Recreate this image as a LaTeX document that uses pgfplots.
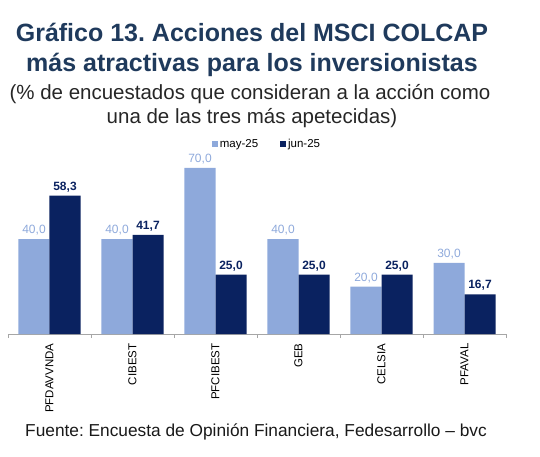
\documentclass[border=0pt]{standalone}
\usepackage{fontspec}
\setmainfont{Liberation Sans}
\usepackage{pgfplots}
\pgfplotsset{compat=1.18}
\frenchspacing
\definecolor{maycol}{HTML}{8EA9DB}
\definecolor{juncol}{HTML}{0A2260}
\definecolor{titlecol}{HTML}{1F3A5C}
\definecolor{axiscol}{HTML}{A6A6A6}
\begin{document}
\begin{tikzpicture}
\path[use as bounding box] (0pt,0pt) rectangle (540pt,456pt);
% titulo
\node[anchor=base,font=\fontsize{25}{30}\selectfont\bfseries,text=titlecol] at (252pt,414pt) {Gráfico 13. Acciones del MSCI COLCAP};
\node[anchor=base,font=\fontsize{25}{30}\selectfont\bfseries,text=titlecol] at (252pt,384pt) {más atractivas para los inversionistas};
\node[anchor=base,font=\fontsize{20.5}{24}\selectfont,text=black!85] at (250pt,356pt) {(\% de encuestados que consideran a la acción como};
\node[anchor=base,font=\fontsize{20.5}{24}\selectfont,text=black!85] at (252pt,332pt) {una de las tres más apetecidas)};
\node[anchor=base,font=\fontsize{17.3}{20}\selectfont,text=black!90] at (256pt,20pt) {Fuente: Encuesta de Opinión Financiera, Fedesarrollo – bvc};
\begin{axis}[
  at={(8pt,122pt)}, anchor=south west,
  scale only axis, width=498pt, height=190pt,
  xmin=-0.5, xmax=5.5, ymin=0, ymax=80,
  axis x line=bottom, axis y line=none,
  axis line style={axiscol,-},
  ybar=0pt, bar width=31pt,
  xtick={0,...,5},
  xticklabels={PFDAVVNDA,CIBEST,PFCIBEST,GEB,CELSIA,PFAVAL},
  major tick length=0pt,
  minor xtick={-0.5,0.5,...,5.5},
  minor tick length=4pt,
  tick align=outside,
  minor tick style={axiscol},
  x tick label style={rotate=90,anchor=east,font=\fontsize{11.5}{13}\selectfont},
  xticklabel shift=6pt,
  /pgf/number format/.cd, use comma, fixed, fixed zerofill, precision=1, assume math mode=true,
  /pgfplots/.cd,
  nodes near coords,
  legend columns=2,
  legend style={draw=none,fill=none,at={(0.52,1.0)},anchor=center,
    font=\fontsize{11.5}{13}\selectfont,/tikz/every even column/.append style={column sep=20pt}},
  legend image code/.code={\fill[#1] (0pt,-3pt) rectangle (6pt,3pt);},
]
\addplot[fill=maycol,draw=none,
  nodes near coords style={font=\fontsize{12}{14}\selectfont,text=maycol}]
  coordinates {(0,40.0) (1,40.0) (2,70.0) (3,40.0) (4,20.0) (5,30.0)};
\addplot[fill=juncol,draw=none,
  nodes near coords style={font=\fontsize{12}{14}\selectfont\bfseries,text=juncol}]
  coordinates {(0,58.3) (1,41.7) (2,25.0) (3,25.0) (4,25.0) (5,16.7)};
\legend{may-25,jun-25}
\end{axis}
\end{tikzpicture}
\end{document}
